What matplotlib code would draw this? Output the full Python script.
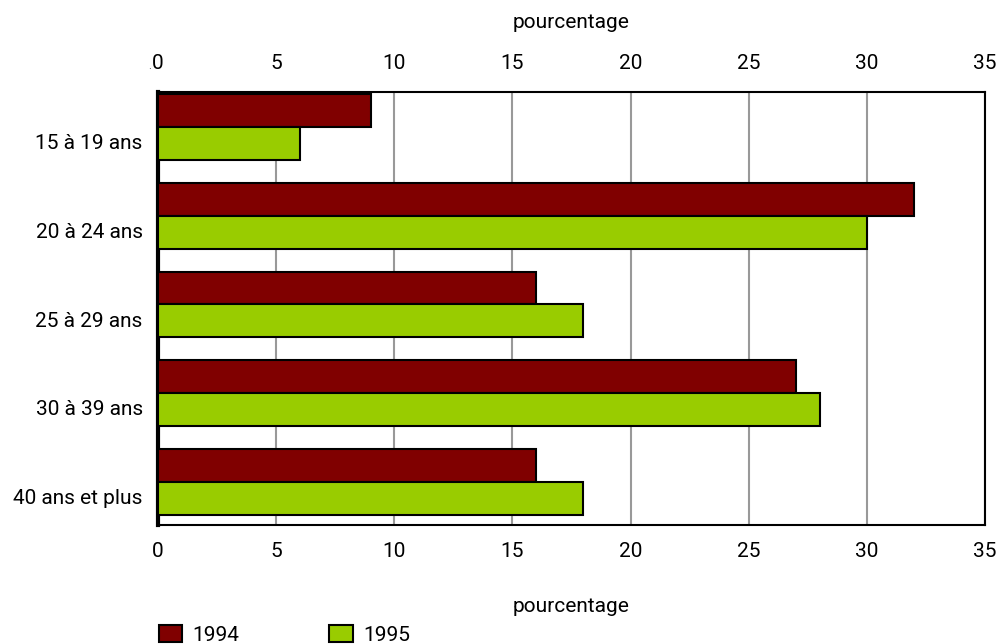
import matplotlib
matplotlib.use("Agg")
import matplotlib.pyplot as plt
import numpy as np
from matplotlib.patches import Patch

categories = ["15 à 19 ans", "20 à 24 ans", "25 à 29 ans", "30 à 39 ans", "40 ans et plus"]
series_1994 = [9, 32, 16, 27, 16]
series_1995 = [6, 30, 18, 28, 18]
xticks = [0, 5, 10, 15, 20, 25, 30, 35]

plt.rcParams['font.family'] = ['Roboto', 'DejaVu Sans']
FS = 15

fig = plt.figure(figsize=(10, 6.44), dpi=100)
ax = fig.add_axes([0.158, 0.185, 0.827, 0.672])

y = np.arange(len(categories))
h = 0.37
c94 = "#800000"
c95 = "#99cc00"
ax.barh(y - 0.35, series_1994, height=h, color=c94, edgecolor="black", linewidth=1.5, zorder=3)
ax.barh(y + 0.02, series_1995, height=h, color=c95, edgecolor="black", linewidth=1.5, zorder=3)

ax.set_xlim(0, 35)
ax.set_ylim(4.32, -0.56)
ax.set_xticks(xticks)
ax.set_yticks(y)
ax.set_yticklabels(categories, fontsize=FS)
ax.tick_params(axis='x', which='both', top=True, bottom=True, labeltop=False, labelbottom=True,
               length=0, labelsize=FS, pad=12)
ax.tick_params(axis='y', length=0, pad=11)
ax.xaxis.grid(True, color="#999999", linewidth=1.5, zorder=0)
ax.set_axisbelow(True)

for s in ["top", "right", "bottom"]:
    ax.spines[s].set_linewidth(1.5)
    ax.spines[s].set_color("black")
ax.spines["left"].set_linewidth(3)

ax2 = ax.secondary_xaxis('top')
ax2.set_xticks(xticks)
ax2.tick_params(length=0, labelsize=FS, pad=13.5)
ax2.spines['top'].set_visible(False)

fig.text(0.5715, 1 - 22 / 644, "pourcentage", fontsize=FS, ha="center", va="center")
fig.text(0.5715, 1 - 607 / 644, "pourcentage", fontsize=FS, ha="center", va="center")

fig.text(0.148, 0.893, ".", fontsize=8, color="#444444")

handles = [Patch(facecolor=c94, edgecolor="black", linewidth=1.5, label="1994"),
           Patch(facecolor=c95, edgecolor="black", linewidth=1.5, label="1995")]
fig.legend(handles=handles, loc="center left", bbox_to_anchor=(0.159, 1 - 635 / 644), ncol=2,
           frameon=False, fontsize=15, handlelength=1.12, handleheight=0.85,
           handletextpad=0.5, columnspacing=4.3, borderpad=0, borderaxespad=0)

fig.savefig("out.png", dpi=100)
